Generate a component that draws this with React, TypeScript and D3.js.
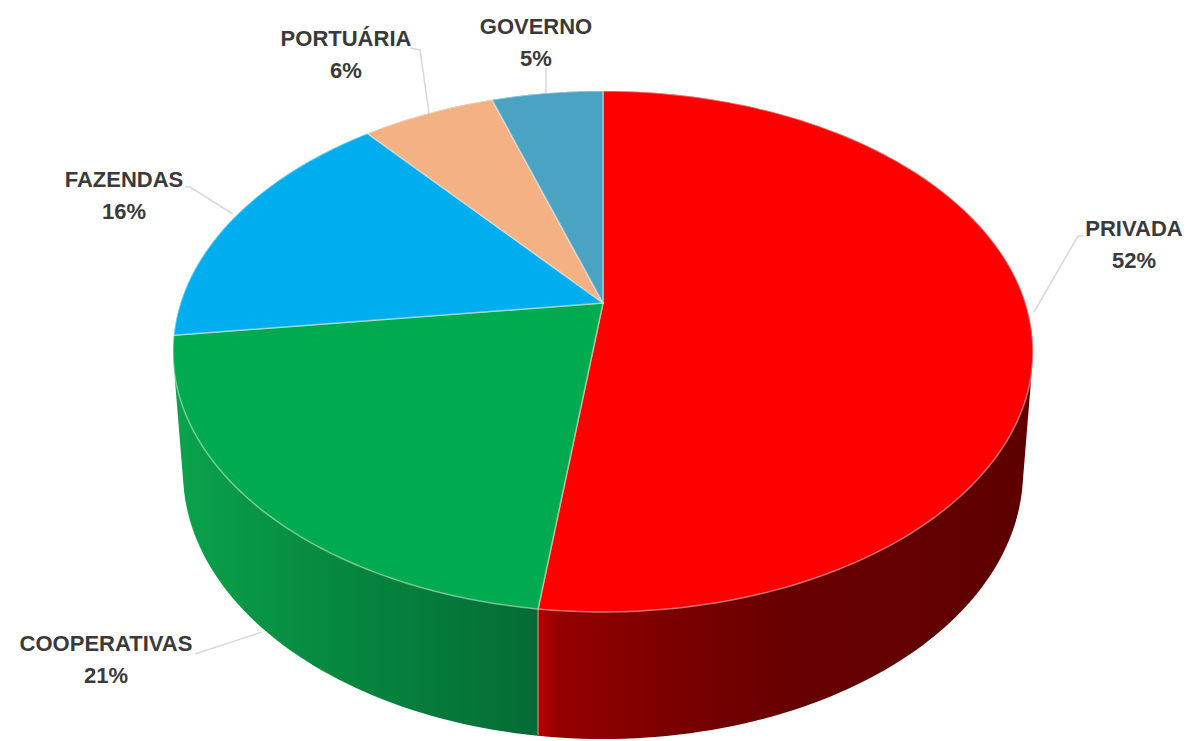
import React from "react";
import * as d3 from "d3";

const categories = ["PRIVADA", "COOPERATIVAS", "FAZENDAS", "PORTUÁRIA", "GOVERNO"];
const shares = [52, 21, 16, 6, 5];
const topColors = ["#ff0000", "#00aa4f", "#00aeef", "#f4b183", "#4ba3c3"];

const W = 1187;
const H = 741;
const CX = 603;
const CY = 303;
const AX = 422.5;
const BY = 251.5;
const K = -0.186;

// Outline of the underside of the disc, a little narrower than the top.
const BASE_CY = 472;
const BASE_RX = 420;
const BASE_RY = 267;

// Tilted disc: a unit circle seen in perspective, so the hub sits above the middle of the ellipse.
const project = (a: number): [number, number] => {
  const u = Math.sin(a);
  const v = -Math.cos(a);
  const w = 1 + K * v;
  return [CX + (AX * u) / w, CY + (BY * v) / w];
};

const pieLayout = d3.pie<number>().sort(null)(shares);
const line = d3.line();

const rimPoints = (a0: number, a1: number) =>
  d3.range(0, 121).map((i) => project(a0 + ((a1 - a0) * i) / 120));

const basePoints = d3
  .range(0, 240)
  .map((i): [number, number] => {
    const t = (i / 240) * 2 * Math.PI;
    return [CX + BASE_RX * Math.sin(t), BASE_CY - BASE_RY * Math.cos(t)];
  });

// The wall is the hull of the top rim and the underside outline.
const wallOutline = d3.polygonHull([...rimPoints(0, 2 * Math.PI), ...basePoints]) as [number, number][];
const seamX = project(pieLayout[0].endAngle)[0];

const labelSpots = [
  { x: 1134, y: 236, leader: [[1034, 312], [1078, 236], [1084, 236]] },
  { x: 106, y: 651, leader: [[262, 632], [195, 654]] },
  { x: 124, y: 187, leader: [[233, 214], [190, 187], [185, 187]] },
  { x: 346, y: 46, leader: [[429, 113], [420, 50], [410, 48]] },
  { x: 536, y: 34, leader: [[546, 93], [546, 68]] },
];

export default function App() {
  return (
    <svg width={W} height={H} style={{ position: "absolute", left: 0, top: 0, background: "#fff" }}>
      <defs>
        <linearGradient id="wall-red" gradientUnits="userSpaceOnUse" x1={seamX} x2={1033} y1={0} y2={0}>
          <stop offset="0" stopColor="#b40000" />
          <stop offset="0.04" stopColor="#960000" />
          <stop offset="0.25" stopColor="#7c0000" />
          <stop offset="0.5" stopColor="#680000" />
          <stop offset="1" stopColor="#5e0000" />
        </linearGradient>
        <linearGradient id="wall-green" gradientUnits="userSpaceOnUse" x1={174} x2={seamX} y1={0} y2={0}>
          <stop offset="0" stopColor="#0aa34b" />
          <stop offset="0.35" stopColor="#078d42" />
          <stop offset="1" stopColor="#046b34" />
        </linearGradient>
        <clipPath id="wall-right">
          <rect x={seamX} y={0} width={W - seamX} height={H} />
        </clipPath>
        <clipPath id="wall-left">
          <rect x={0} y={0} width={seamX} height={H} />
        </clipPath>
      </defs>
      <path d={line(wallOutline) + "Z"} fill="url(#wall-red)" clipPath="url(#wall-right)" />
      <path d={line(wallOutline) + "Z"} fill="url(#wall-green)" clipPath="url(#wall-left)" />
      <path
        d={`M${seamX},${project(pieLayout[0].endAngle)[1]}V${BASE_CY + BASE_RY * 0.985}`}
        stroke="#ffffff"
        strokeOpacity={0.5}
        strokeWidth={1.2}
        fill="none"
      />
      {pieLayout.map((s, i) => (
        <path
          key={categories[i]}
          d={line([[CX, CY], ...rimPoints(s.startAngle, s.endAngle)] as [number, number][]) + "Z"}
          fill={topColors[i]}
          stroke="#ffffff"
          strokeOpacity={0.45}
          strokeWidth={1.5}
          strokeLinejoin="round"
        />
      ))}
      {categories.map((c, i) => (
        <g key={c}>
          <path
            d={line(labelSpots[i].leader as [number, number][]) ?? ""}
            fill="none"
            stroke="#d9d9d9"
            strokeWidth={1.5}
          />
          <text
            x={labelSpots[i].x}
            y={labelSpots[i].y}
            textAnchor="middle"
            fontFamily="Liberation Sans"
            fontWeight={700}
            fontSize={22}
            fill="#3a3a3a"
          >
            <tspan x={labelSpots[i].x}>{c}</tspan>
            <tspan x={labelSpots[i].x} dy={32}>{shares[i]}%</tspan>
          </text>
        </g>
      ))}
    </svg>
  );
}
